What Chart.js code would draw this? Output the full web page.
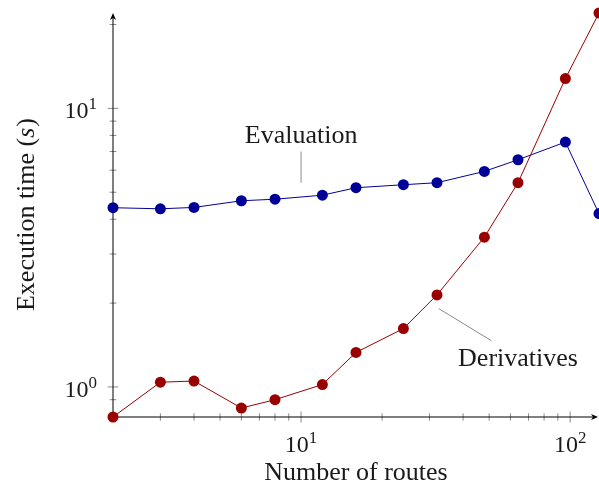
<!DOCTYPE html>
<html>
<head>
<meta charset="utf-8">
<script src="https://cdn.jsdelivr.net/npm/chart.js@4"></script>
<style>
  html, body { margin: 0; padding: 0; background: #fff; }
  canvas { display: block; }
</style>
</head>
<body>
<canvas id="chart" width="599" height="487"></canvas>
<script>
// Number of routes (x) and execution times in seconds (y)
const routes = [2, 3, 4, 6, 8, 12, 16, 24, 32, 48, 64, 96, 128];
const evaluationTimes = [4.40, 4.36, 4.41, 4.66, 4.72, 4.88, 5.19, 5.32, 5.41, 5.94, 6.54, 7.57, 4.19];
const derivativeTimes = [0.78, 1.04, 1.05, 0.84, 0.90, 1.02, 1.33, 1.62, 2.14, 3.45, 5.41, 12.8, 22.0];

// Axis ticks (log scales)
const xMajorTicks = [10, 100];
const xMinorTicks = [3, 4, 5, 6, 7, 8, 9, 20, 30, 40, 50, 60, 70, 80, 90];
const yMajorTicks = [1, 10];
const yMinorTicks = [0.9, 2, 3, 4, 5, 6, 7, 8, 9, 20];
const xTickExponents = ['1', '2'];
const yTickExponents = ['0', '1'];

// Pin labels, in data coordinates
const evalLabel = { text: 'Evaluation', x: 10, y: 7.53, lineFrom: 7.0, lineTo: 5.41 };
const derivLabel = { text: 'Derivatives', x: 64, y: 1.19, lineFrom: [32.5, 1.91], lineTo: [50.9, 1.467] };

const SERIF = '"Liberation Serif", "DejaVu Serif", serif';

function drawPower(ctx, base, exp, x, y, align) {
  ctx.font = '24px ' + SERIF;
  const wb = ctx.measureText(base).width;
  ctx.font = '17px ' + SERIF;
  const we = ctx.measureText(exp).width;
  const total = wb + we;
  let start = x;
  if (align === 'center') start = x - total / 2;
  if (align === 'right') start = x - total;
  ctx.textAlign = 'left';
  ctx.textBaseline = 'alphabetic';
  ctx.font = '24px ' + SERIF;
  ctx.fillText(base, start, y);
  ctx.font = '17px ' + SERIF;
  ctx.fillText(exp, start + wb, y - 9);
}

function line(ctx, x1, y1, x2, y2) {
  ctx.beginPath();
  ctx.moveTo(x1, y1);
  ctx.lineTo(x2, y2);
  ctx.stroke();
}

const axisDecor = {
  id: 'axisDecor',
  beforeDatasetsDraw(chart) {
    const ctx = chart.ctx;
    const { left, right, top, bottom } = chart.chartArea;
    const xs = chart.scales.x, ys = chart.scales.y;
    ctx.save();
    ctx.lineWidth = 1;
    ctx.strokeStyle = '#8c8c8c';
    xMinorTicks.forEach(v => {
      const px = xs.getPixelForValue(v);
      line(ctx, px, bottom - 3.7, px, bottom + 3.7);
    });
    xMajorTicks.forEach(v => {
      const px = xs.getPixelForValue(v);
      line(ctx, px, bottom - 5.5, px, bottom + 5.5);
    });
    yMinorTicks.forEach(v => {
      const py = ys.getPixelForValue(v);
      if (py < top + 8 || py > bottom) return;
      line(ctx, left - 3.4, py, left + 3.4, py);
    });
    yMajorTicks.forEach(v => {
      const py = ys.getPixelForValue(v);
      line(ctx, left - 5.3, py, left + 5.3, py);
    });

    // axis lines with arrow heads
    ctx.strokeStyle = '#000';
    ctx.fillStyle = '#000';
    const tipX = right - 1, tipY = top;
    line(ctx, left, bottom, tipX - 4, bottom);
    line(ctx, left, bottom, left, tipY + 4);
    ctx.beginPath();
    ctx.moveTo(tipX, bottom);
    ctx.lineTo(tipX - 7, bottom - 3);
    ctx.lineTo(tipX - 5, bottom);
    ctx.lineTo(tipX - 7, bottom + 3);
    ctx.closePath();
    ctx.fill();
    ctx.beginPath();
    ctx.moveTo(left, tipY);
    ctx.lineTo(left - 3, tipY + 7);
    ctx.lineTo(left, tipY + 5);
    ctx.lineTo(left + 3, tipY + 7);
    ctx.closePath();
    ctx.fill();
    ctx.restore();
  },
  afterDraw(chart) {
    const ctx = chart.ctx;
    const { left, right, top, bottom } = chart.chartArea;
    const xs = chart.scales.x, ys = chart.scales.y;
    ctx.save();
    ctx.fillStyle = '#1a1a1a';

    // tick labels
    xMajorTicks.forEach((v, i) => {
      drawPower(ctx, '10', xTickExponents[i], xs.getPixelForValue(v), bottom + 35, 'center');
    });
    yMajorTicks.forEach((v, i) => {
      drawPower(ctx, '10', yTickExponents[i], left - 16, ys.getPixelForValue(v) + 10, 'right');
    });

    // axis titles
    ctx.font = '26px ' + SERIF;
    ctx.textAlign = 'center';
    ctx.textBaseline = 'alphabetic';
    ctx.fillText('Number of routes', (left + right) / 2, 480);

    ctx.save();
    ctx.translate(34, (top + bottom) / 2);
    ctx.rotate(-Math.PI / 2);
    const p1 = 'Execution time (', p2 = 's', p3 = ')';
    ctx.font = '26px ' + SERIF;
    const w1 = ctx.measureText(p1).width, w3 = ctx.measureText(p3).width;
    ctx.font = 'italic 26px ' + SERIF;
    const w2 = ctx.measureText(p2).width;
    let sx = -(w1 + w2 + w3) / 2;
    ctx.textAlign = 'left';
    ctx.font = '26px ' + SERIF;
    ctx.fillText(p1, sx, 0);
    ctx.font = 'italic 26px ' + SERIF;
    ctx.fillText(p2, sx + w1, 0);
    ctx.font = '26px ' + SERIF;
    ctx.fillText(p3, sx + w1 + w2 + 1, 0);
    ctx.restore();

    // pin annotations
    ctx.strokeStyle = '#8a8a8a';
    ctx.lineWidth = 1;
    const ex = xs.getPixelForValue(evalLabel.x);
    line(ctx, ex, ys.getPixelForValue(evalLabel.lineFrom), ex, ys.getPixelForValue(evalLabel.lineTo));
    line(ctx,
      xs.getPixelForValue(derivLabel.lineFrom[0]), ys.getPixelForValue(derivLabel.lineFrom[1]),
      xs.getPixelForValue(derivLabel.lineTo[0]), ys.getPixelForValue(derivLabel.lineTo[1]));
    ctx.font = '26px ' + SERIF;
    ctx.textAlign = 'center';
    ctx.fillText(evalLabel.text, ex, ys.getPixelForValue(evalLabel.y));
    ctx.fillText(derivLabel.text, xs.getPixelForValue(derivLabel.x), ys.getPixelForValue(derivLabel.y));
    ctx.restore();
  }
};

const toPoints = (xs, ys) => xs.map((x, i) => ({ x: x, y: ys[i] }));

new Chart(document.getElementById('chart').getContext('2d'), {
  type: 'line',
  data: {
    datasets: [
      {
        label: 'Derivatives',
        data: toPoints(routes, derivativeTimes),
        borderColor: '#990000',
        backgroundColor: '#990000',
        borderWidth: 1,
        pointRadius: 5.5,
        pointBorderWidth: 0,
        pointBackgroundColor: '#990000',
        fill: false,
        tension: 0,
        clip: false
      },
      {
        label: 'Evaluation',
        data: toPoints(routes, evaluationTimes),
        borderColor: '#000099',
        backgroundColor: '#000099',
        borderWidth: 1,
        pointRadius: 5.5,
        pointBorderWidth: 0,
        pointBackgroundColor: '#000099',
        fill: false,
        tension: 0,
        clip: false
      }
    ]
  },
  options: {
    responsive: false,
    animation: false,
    events: [],
    layout: { autoPadding: false, padding: { left: 0, right: 0, top: 13, bottom: 0 } },
    plugins: {
      legend: { display: false },
      tooltip: { enabled: false }
    },
    scales: {
      x: {
        type: 'logarithmic',
        min: 2,
        max: 128,
        grid: { display: false },
        border: { display: false },
        ticks: { display: false },
        afterFit(scale) { scale.height = 70; }
      },
      y: {
        type: 'logarithmic',
        min: 0.78,
        max: 22,
        grid: { display: false },
        border: { display: false },
        ticks: { display: false },
        afterFit(scale) { scale.width = 113; }
      }
    }
  },
  plugins: [axisDecor]
});
</script>
</body>
</html>
